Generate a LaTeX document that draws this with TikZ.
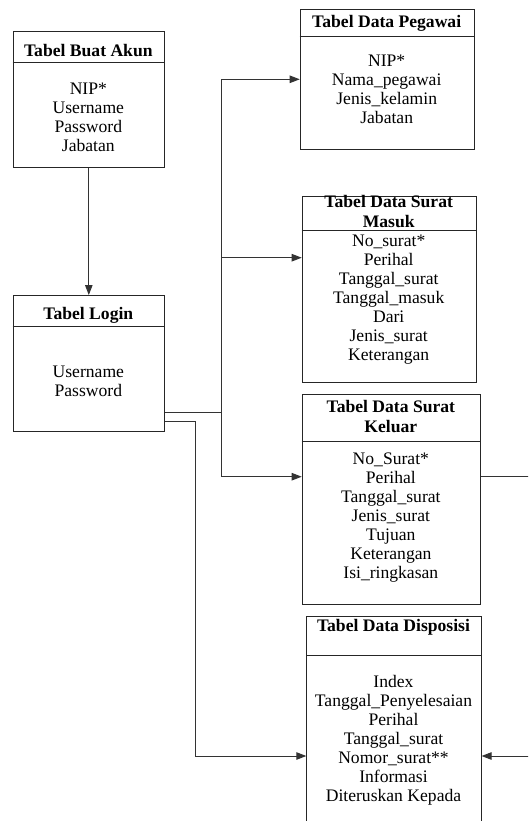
\documentclass[tikz,border=0pt]{standalone}
\usepackage{fontspec}
\setmainfont{Liberation Serif}
\usetikzlibrary{arrows.meta}
\begin{document}
\begin{tikzpicture}[x=1pt,y=-1pt,
  tbl/.style={draw=black!85,line width=0.9pt,rectangle,anchor=north west,inner sep=0pt},
  hdr/.style={draw=black!85,line width=0.9pt},
  ttl/.style={font=\fontsize{17.6}{20}\selectfont\bfseries,align=center,inner sep=0pt},
  body/.style={font=\fontsize{17.6}{19}\selectfont,align=center,inner sep=0pt},
  conn/.style={draw=black!80,line width=0.9pt},
  arr/.style={conn,-{Triangle[length=10pt,width=7.5pt]}}]
\clip (0,0) rectangle (528,821);
\fill[white] (0,0) rectangle (528,821);

% boxes
\node[tbl,minimum width=151.3pt,minimum height=136pt] (akun) at (12.7,31) {};
\node[tbl,minimum width=151.3pt,minimum height=136pt] (login) at (12.7,295) {};
\node[tbl,minimum width=174pt,minimum height=139.7pt] (peg) at (299.7,9.3) {};
\node[tbl,minimum width=174pt,minimum height=186pt] (masuk) at (301.7,196) {};
\node[tbl,minimum width=178.3pt,minimum height=209.7pt] (keluar) at (301.7,394.3) {};
\node[tbl,minimum width=174.4pt,minimum height=240pt] (dispo) at (306.3,615.7) {};

% header dividers
\draw[hdr] (akun.west |- 0,62) -- (akun.east |- 0,62);
\draw[hdr] (login.west |- 0,326) -- (login.east |- 0,326);
\draw[hdr] (peg.west |- 0,36) -- (peg.east |- 0,36);
\draw[hdr] (masuk.west |- 0,230.7) -- (masuk.east |- 0,230.7);
\draw[hdr] (keluar.west |- 0,441) -- (keluar.east |- 0,441);
\draw[hdr] (dispo.west |- 0,655) -- (dispo.east |- 0,655);

% titles
\node[ttl] (akunT) at (88.35,51) {Tabel Buat Akun};
\node[ttl] (loginT) at (88.35,315) {Tabel Login};
\node[ttl] (pegT) at (386.7,23.3) {Tabel Data Pegawai};
\node[ttl] (masukT) at (388.7,211.5) {Tabel Data Surat\\Masuk};
\node[ttl] (keluarT) at (390.85,416) {Tabel Data Surat\\Keluar};
\node[ttl] (dispoT) at (393.5,627.3) {Tabel Data Disposisi};

% bodies
\node[body] (akunB) at (88.35,117) {NIP*\\Username\\Password\\Jabatan};
\node[body] (loginB) at (88.35,381) {Username\\Password};
\node[body] (pegB) at (386.7,89.5) {NIP*\\Nama\_pegawai\\Jenis\_kelamin\\Jabatan};
\node[body] (masukB) at (388.7,299.5) {No\_surat*\\Perihal\\Tanggal\_surat\\Tanggal\_masuk\\Dari\\Jenis\_surat\\Keterangan};
\node[body] (keluarB) at (390.85,518) {No\_Surat*\\Perihal\\Tanggal\_surat\\Jenis\_surat\\Tujuan\\Keterangan\\Isi\_ringkasan};
\node[body] (dispoB) at (393.5,740.5) {Index\\Tanggal\_Penyelesaian\\Perihal\\Tanggal\_surat\\Nomor\_surat**\\Informasi\\Diteruskan Kepada};

% connectors
\draw[arr] (akun.south) -- (login.north);

\coordinate (j) at (221.7,412.5);
\coordinate (tp) at (221.7,79.3);
\coordinate (tm) at (221.7,257.7);
\coordinate (tk) at (221.7,476.7);
\draw[conn] (login.east |- j) -- (j);
\draw[arr] (j) |- (tp -| peg.west);
\draw[arr] (j) |- (tm -| masuk.west);
\draw[arr] (j) |- (tk -| keluar.west);

\coordinate (d1) at (195,421.7);
\coordinate (dd) at (195,756);
\draw[arr] (login.east |- d1) -| (dd) -- (dd -| dispo.west);

\coordinate (r) at (545,756);
\draw[arr] (keluar.east |- tk) -| (r) -- (r -| dispo.east);
\end{tikzpicture}
\end{document}
